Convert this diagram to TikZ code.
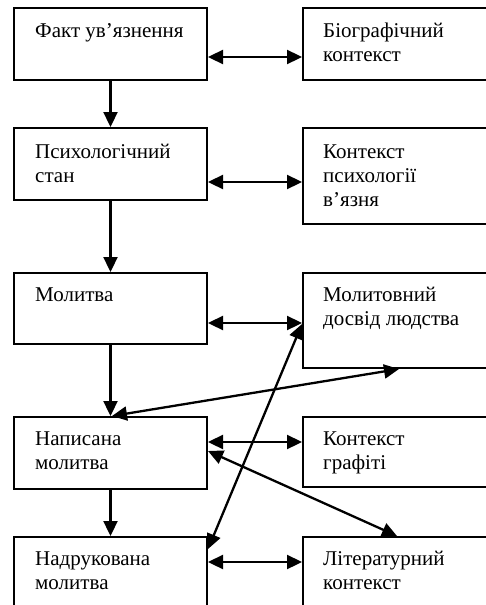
\documentclass[tikz,border=0pt]{standalone}
\usepackage{fontspec}
\setmainfont{Liberation Serif}
\usetikzlibrary{arrows.meta}
\begin{document}
\begin{tikzpicture}[x=1pt,y=-1pt,
 box/.style={draw, line width=2pt, minimum width=193pt, inner sep=0pt},
 rbox/.style={draw, line width=2pt, minimum width=197pt, inner sep=0pt},
 lbl/.style={anchor=base west, inner sep=0pt, font=\fontsize{21}{24}\selectfont},
 arr/.style={line width=2.3pt, -{Triangle[length=15pt,width=14pt]}},
 dbl/.style={line width=2.3pt, {Triangle[length=15pt,width=14pt]}-{Triangle[length=15pt,width=14pt]}}]
\useasboundingbox (0,0) rectangle (486,605);
\clip (0,0) rectangle (486,605);
% left boxes
\node[box, minimum height=72pt] (L1) at (110.5,44) {};
\node[box, minimum height=72pt] (L2) at (110.5,164) {};
\node[box, minimum height=71pt] (L3) at (110.5,308.5) {};
\node[box, minimum height=72pt] (L4) at (110.5,453) {};
\node[box, minimum height=80pt] (L5) at (110.5,577) {};
% right boxes
\node[rbox, minimum height=72pt] (R1) at (401.5,44) {};
\node[rbox, minimum height=96pt] (R2) at (401.5,176) {};
\node[rbox, minimum height=95pt] (R3) at (401.5,320.5) {};
\node[rbox, minimum height=70pt] (R4) at (401.5,452) {};
\node[rbox, minimum height=80pt] (R5) at (401.5,577) {};
% texts
\node[lbl] (t1) at (35,37) {Факт ув’язнення};
\node[lbl] (t2a) at (35,158) {Психологічний};
\node[lbl] (t2b) at (35,182) {стан};
\node[lbl] (t3) at (35,301) {Молитва};
\node[lbl] (t4a) at (35,445.5) {Написана};
\node[lbl] (t4b) at (35,469) {молитва};
\node[lbl] (t5a) at (35,565.5) {Надрукована};
\node[lbl] (t5b) at (35,589) {молитва};
\node[lbl] (s1a) at (323,37) {Біографічний};
\node[lbl] (s1b) at (323,61) {контекст};
\node[lbl] (s2a) at (323,158) {Контекст};
\node[lbl] (s2b) at (323,182) {психології};
\node[lbl] (s2c) at (323,206) {в’язня};
\node[lbl] (s3a) at (323,301) {Молитовний};
\node[lbl] (s3b) at (323,325) {досвід людства};
\node[lbl] (s4a) at (323,445.5) {Контекст};
\node[lbl] (s4b) at (323,469) {графіті};
\node[lbl] (s5a) at (323,565.5) {Літературний};
\node[lbl] (s5b) at (323,589) {контекст};
% vertical arrows
\draw[arr] (L1.south) -- (L2.north);
\draw[arr] (L2.south) -- (L3.north);
\draw[arr] (L3.south) -- (L4.north);
\draw[arr] (L4.south) -- (L5.north);
% horizontal arrows
\draw[dbl] (L1.east |- 0,57) -- (R1.west |- 0,57);
\draw[dbl] (L2.east |- 0,182) -- (R2.west |- 0,182);
\draw[dbl] (L3.east |- 0,323) -- (R3.west |- 0,323);
\draw[dbl] (L4.east |- 0,442) -- (R4.west |- 0,442);
\draw[dbl] (L5.east |- 0,562) -- (R5.west |- 0,562);
% diagonal arrows
\draw[dbl] ([xshift=99pt]L4.north west) -- ([xshift=97pt]R3.south west);
\draw[dbl] ([yshift=-13pt]L5.north east) -- ([yshift=-52pt]R3.north west);
\draw[dbl] ([yshift=-35pt]L4.north east) -- ([xshift=95pt]R5.north west);
\end{tikzpicture}
\end{document}
